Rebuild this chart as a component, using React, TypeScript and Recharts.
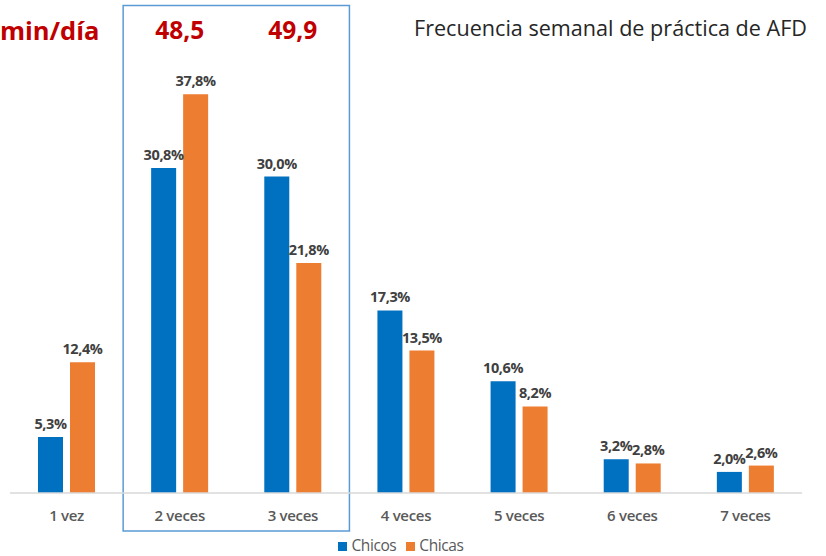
import React from "react";
import {
  BarChart,
  Bar,
  XAxis,
  YAxis,
  LabelList,
  Legend,
  ReferenceArea,
} from "recharts";

// ─── Data ─────────────────────────────────────────────────────────────────────

const categories = ["1 vez", "2 veces", "3 veces", "4 veces", "5 veces", "6 veces", "7 veces"];
const seriesNames = ["Chicos", "Chicas"];
const chicos = [5.3, 30.8, 30.0, 17.3, 10.6, 3.2, 2.0];
const chicas = [12.4, 37.8, 21.8, 13.5, 8.2, 2.8, 2.6];
// minutos/día shown above the highlighted categories
const minPerDay: (number | null)[] = [null, 48.5, 49.9, null, null, null, null];
const highlight = ["2 veces", "3 veces"];

const data = categories.map((c, i) => ({
  cat: c,
  chicos: chicos[i],
  chicas: chicas[i],
  min: minPerDay[i],
}));

const BLUE = "#0070C0";
const ORANGE = "#ED7D31";
const FONT = "'Open Sans', sans-serif";

const pct = (v: unknown) => `${(v as number).toFixed(1).replace(".", ",")}%`;
const minLabel = (cat: string) => {
  const v = data.find((d) => d.cat === cat)?.min;
  return v == null ? "" : v.toFixed(1).replace(".", ",");
};

const valueLabelStyle = { fill: "#404040", fontSize: 14.5, fontWeight: 700, fontFamily: FONT, letterSpacing: -0.4 };

export default function App() {
  return (
    <div style={{ position: "absolute", left: 0, top: 0, width: 826, height: 556, background: "#fff", fontFamily: FONT }}>
      <div style={{ position: "absolute", left: 0, top: 12, color: "#C00000", fontWeight: 700, fontSize: 25.5, fontFamily: FONT, lineHeight: "36px" }}>
        min/día
      </div>
      <div style={{ position: "absolute", left: 414, top: 13, color: "#262626", fontSize: 21.6, fontFamily: FONT, lineHeight: "30px" }}>
        Frecuencia semanal de práctica de AFD
      </div>
      <BarChart
        width={826}
        height={556}
        data={data}
        margin={{ top: 5, right: 24, left: 10, bottom: 1 }}
        barSize={25}
        barGap={7}
      >
        <XAxis
          xAxisId="top"
          orientation="top"
          dataKey="cat"
          height={66}
          axisLine={false}
          tickLine={false}
          tickSize={0}
          tickMargin={32}
          tickFormatter={minLabel}
          tick={{ fill: "#C00000", fontSize: 24.5, fontWeight: 700, fontFamily: FONT }}
        />
        <XAxis
          xAxisId="main"
          dataKey="cat"
          height={40}
          axisLine={{ stroke: "#D9D9D9", strokeWidth: 1.5 }}
          tickLine={false}
          tickMargin={11}
          tick={{ fill: "#595959", fontSize: 15, fontWeight: 600, fontFamily: FONT, letterSpacing: -0.3 }}
        />
        <YAxis hide domain={[0, 40]} />
        <ReferenceArea
          xAxisId="main"
          x1={highlight[0]}
          x2={highlight[1]}
          y1={-3.6}
          y2={46.2}
          ifOverflow="visible"
          fill="none"
          stroke="#5B9BD5"
          strokeWidth={1.5}
        />
        <Legend
          verticalAlign="bottom"
          iconType="square"
          iconSize={9}
          itemSorter={(item: any) => seriesNames.indexOf(item.value)}
          wrapperStyle={{ top: 534, fontFamily: FONT, fontSize: 15.5, color: "#595959" }}
          formatter={(value) => <span style={{ color: "#595959", letterSpacing: -0.4 }}>{value}</span>}
        />
        <Bar xAxisId="main" dataKey="chicos" name="Chicos" fill={BLUE} isAnimationActive={false}>
          <LabelList dataKey="chicos" position="top" offset={8} formatter={pct} style={valueLabelStyle} />
        </Bar>
        <Bar xAxisId="main" dataKey="chicas" name="Chicas" fill={ORANGE} isAnimationActive={false}>
          <LabelList dataKey="chicas" position="top" offset={8} formatter={pct} style={valueLabelStyle} />
        </Bar>
      </BarChart>
    </div>
  );
}
